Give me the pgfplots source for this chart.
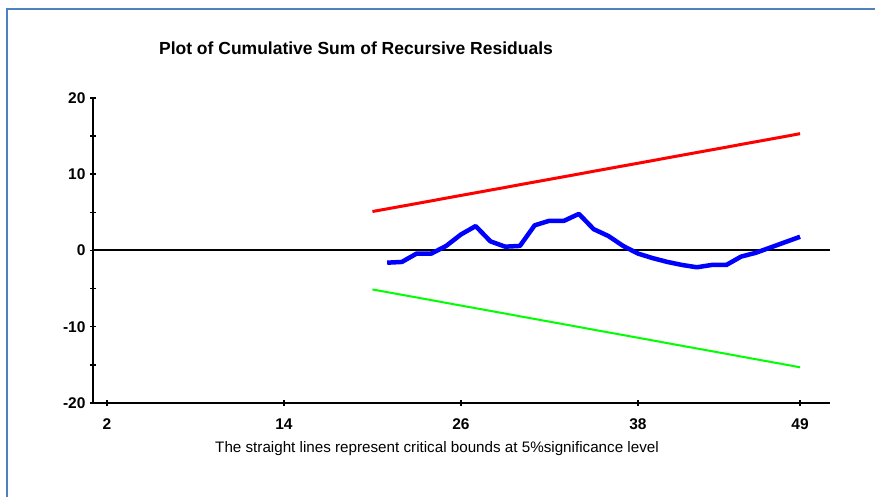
\documentclass[border=0pt]{standalone}
\usepackage{fontspec}
\setmainfont{Liberation Sans}
\usepackage{pgfplots}
\pgfplotsset{compat=1.18}
\definecolor{framec}{RGB}{79,129,189}
\begin{document}
\begin{tikzpicture}[x=1bp,y=1bp]
\path[use as bounding box] (0,0) rectangle (875,497);
\draw[framec, line width=2bp] (7,0) -- (7,488) -- (875,488);
\node[font=\fontsize{17.5bp}{20bp}\selectfont\bfseries] at (356,449) {Plot of Cumulative Sum of Recursive Residuals};
\node[font=\fontsize{15.2bp}{17bp}\selectfont] at (437,48) {The straight lines represent critical bounds at 5\%significance level};
\begin{axis}[
  at={(93bp,94bp)}, anchor=south west,
  scale only axis, width=737bp, height=305bp,
  xmin=1.05, xmax=51.03, ymin=-20, ymax=20,
  axis x line=bottom, axis y line=left,
  axis line style={line width=2bp, -},
  xtick={2,14,26,38,49},
  ytick={-20,-10,0,10,20},
  minor ytick={-15,-5,5,15},
  tick align=center,
  major tick length=6bp, minor tick length=6bp,
  tick style={line width=1.5bp, black},
  ticklabel style={font=\fontsize{15.5bp}{17bp}\selectfont\bfseries},
  /pgf/number format/assume math mode=true,
  yticklabel style={xshift=-1bp},
  xticklabel style={yshift=-9bp},
  clip=false,
]
\addplot[black, line width=2bp] coordinates {(1.05,0) (51.03,0)};
\addplot[red, line width=3bp] coordinates {
(20,5.11) (21,5.46) (22,5.81) (23,6.16) (24,6.51) (25,6.87) (26,7.22) (27,7.57) (28,7.92) (29,8.27)
(30,8.63) (31,8.98) (32,9.33) (33,9.68) (34,10.03) (35,10.39) (36,10.74) (37,11.09) (38,11.44) (39,11.79)
(40,12.15) (41,12.50) (42,12.85) (43,13.20) (44,13.55) (45,13.91) (46,14.26) (47,14.61) (48,14.96) (49,15.32)};
\addplot[green, line width=2bp] coordinates {
(20,-5.11) (21,-5.46) (22,-5.81) (23,-6.16) (24,-6.51) (25,-6.87) (26,-7.22) (27,-7.57) (28,-7.92) (29,-8.27)
(30,-8.63) (31,-8.98) (32,-9.33) (33,-9.68) (34,-10.03) (35,-10.39) (36,-10.74) (37,-11.09) (38,-11.44) (39,-11.79)
(40,-12.15) (41,-12.50) (42,-12.85) (43,-13.20) (44,-13.55) (45,-13.91) (46,-14.26) (47,-14.61) (48,-14.96) (49,-15.32)};
\addplot[blue, line width=4.5bp, line join=round] coordinates {
(21,-1.6) (22,-1.5) (23,-0.4) (24,-0.4) (25,0.6) (26,2.1) (27,3.2) (28,1.2) (29,0.5) (30,0.6)
(31,3.3) (32,3.9) (33,3.9) (34,4.8) (35,2.8) (36,1.9) (37,0.6) (38,-0.4) (39,-1.0) (40,-1.5)
(41,-1.9) (42,-2.2) (43,-1.9) (44,-1.9) (45,-0.8) (46,-0.3) (47,0.4) (48,1.1) (49,1.8)};
\end{axis}
\end{tikzpicture}
\end{document}
